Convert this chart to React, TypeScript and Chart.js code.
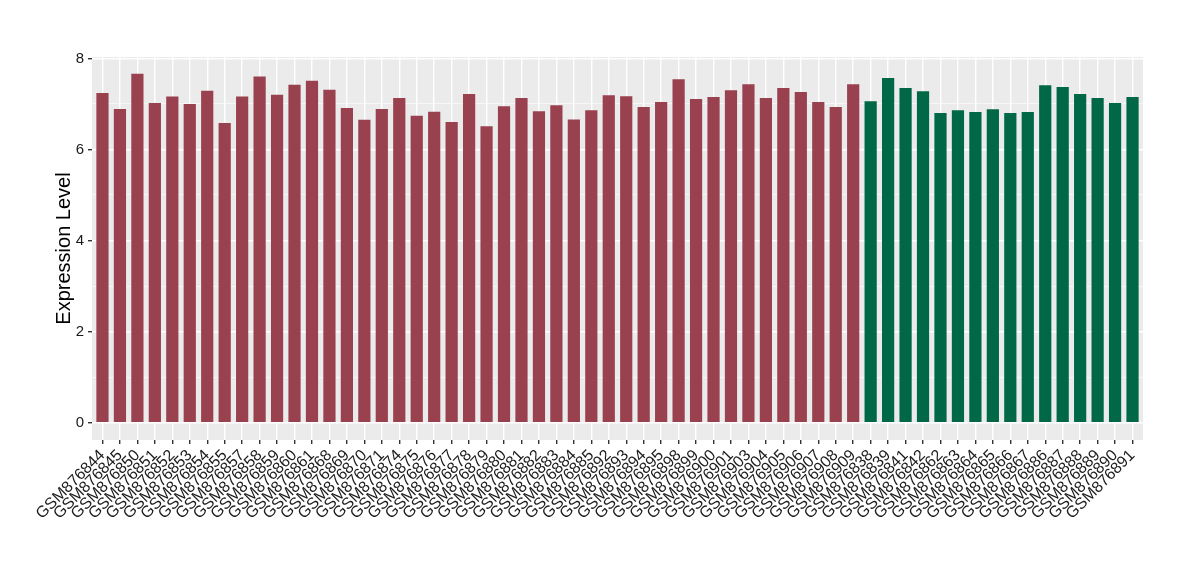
import React, { useEffect, useRef } from "react";
import { Chart, registerables } from "chart.js";

Chart.register(...registerables);

const groupALabels = [
  "GSM876844", "GSM876845", "GSM876850", "GSM876851", "GSM876852", "GSM876853", "GSM876854", "GSM876855",
  "GSM876857", "GSM876858", "GSM876859", "GSM876860", "GSM876861", "GSM876868", "GSM876869", "GSM876870",
  "GSM876871", "GSM876874", "GSM876875", "GSM876876", "GSM876877", "GSM876878", "GSM876879", "GSM876880",
  "GSM876881", "GSM876882", "GSM876883", "GSM876884", "GSM876885", "GSM876892", "GSM876893", "GSM876894",
  "GSM876895", "GSM876898", "GSM876899", "GSM876900", "GSM876901", "GSM876903", "GSM876904", "GSM876905",
  "GSM876906", "GSM876907", "GSM876908", "GSM876909",
];
const groupAValues = [
  7.24, 6.89, 7.66, 7.02, 7.16, 7.0, 7.29, 6.58,
  7.16, 7.6, 7.2, 7.42, 7.51, 7.31, 6.91, 6.65,
  6.89, 7.13, 6.74, 6.83, 6.6, 7.22, 6.51, 6.95,
  7.13, 6.84, 6.97, 6.66, 6.86, 7.19, 7.17, 6.93,
  7.04, 7.54, 7.11, 7.15, 7.3, 7.43, 7.13, 7.35,
  7.26, 7.04, 6.93, 7.43,
];
const groupBLabels = [
  "GSM876838", "GSM876839", "GSM876841", "GSM876842", "GSM876862", "GSM876863", "GSM876864", "GSM876865",
  "GSM876866", "GSM876867", "GSM876886", "GSM876887", "GSM876888", "GSM876889", "GSM876890", "GSM876891",
];
const groupBValues = [
  7.06, 7.57, 7.35, 7.28, 6.8, 6.86, 6.82, 6.88,
  6.8, 6.82, 7.41, 7.37, 7.22, 7.13, 7.02, 7.15,
];
const yTickValues = [0, 1, 2, 3, 4, 5, 6, 7, 8];
const yMajorTicks = [0, 2, 4, 6, 8];

const colorA = "#9A4150";
const colorB = "#006846";

export default function App() {
  const ref = useRef<HTMLCanvasElement | null>(null);

  useEffect(() => {
    if (!ref.current) return;
    const allLabels = [...groupALabels, ...groupBLabels];
    const n = allLabels.length;
    const dataA = groupAValues.map((v, i) => ({ x: i, y: v }));
    const dataB = groupBValues.map((v, i) => ({ x: i + groupALabels.length, y: v }));

    const panelBg = {
      id: "panelBg",
      beforeDraw(chart: any) {
        const { ctx, chartArea } = chart;
        ctx.save();
        ctx.fillStyle = "#EBEBEB";
        ctx.fillRect(chartArea.left, chartArea.top, chartArea.right - chartArea.left, chartArea.bottom - chartArea.top);
        ctx.restore();
      },
    };

    const font = "'Liberation Sans', Arial, Helvetica, sans-serif";
    const chart = new Chart(ref.current, {
      type: "bar",
      data: {
        datasets: [
          { data: dataA, backgroundColor: colorA, grouped: false, categoryPercentage: 1, barPercentage: 0.7 } as any,
          { data: dataB, backgroundColor: colorB, grouped: false, categoryPercentage: 1, barPercentage: 0.7 } as any,
        ],
      },
      options: {
        animation: false,
        responsive: false,
        maintainAspectRatio: false,
        layout: { padding: { top: 57, right: 57, left: 52, bottom: 0 } },
        plugins: { legend: { display: false }, tooltip: { enabled: false } },
        scales: {
          x: {
            type: "linear",
            offset: false,
            min: -0.6,
            max: n - 1 + 0.6,
            afterBuildTicks: (scale: any) => {
              scale.ticks = allLabels.map((_, i) => ({ value: i }));
            },
            afterFit: (scale: any) => {
              scale.height = 140;
            },
            border: { display: false },
            grid: {
              offset: false,
              color: "#FFFFFF",
              lineWidth: 1.4,
              tickColor: "#333333",
              tickLength: 4,
              drawTicks: true,
            },
            ticks: {
              autoSkip: false,
              maxRotation: 45,
              minRotation: 45,
              padding: 2,
              color: "#1A1A1A",
              font: { family: font, size: 16 },
              callback: (v: any) => allLabels[Math.round(Number(v))] ?? "",
            },
          },
          y: {
            min: -0.38,
            max: 8.03,
            afterBuildTicks: (scale: any) => {
              scale.ticks = yTickValues.map((v) => ({ value: v }));
            },
            afterFit: (scale: any) => {
              scale.width = 40;
            },
            border: { display: false },
            grid: {
              color: "#FFFFFF",
              lineWidth: (ctx: any) => (yMajorTicks.includes(ctx.tick?.value) ? 1.4 : 0.6),
              tickColor: (ctx: any) => (yMajorTicks.includes(ctx.tick?.value) ? "#333333" : "rgba(0,0,0,0)"),
              tickLength: 4,
            },
            title: {
              display: true,
              text: "Expression Level",
              color: "#000000",
              font: { family: font, size: 20 },
              padding: { top: 0, bottom: 0 },
            },
            ticks: {
              padding: 4,
              color: "#1A1A1A",
              font: { family: font, size: 15 },
              callback: (v: any) => (yMajorTicks.includes(Number(v)) ? String(v) : ""),
            },
          },
        },
      },
      plugins: [panelBg],
    } as any);
    return () => chart.destroy();
  }, []);

  return (
    <div style={{ position: "fixed", left: 0, top: 0, width: 1200, height: 580, background: "#fff" }}>
      <canvas ref={ref} width={1200} height={580} style={{ width: 1200, height: 580 }} />
    </div>
  );
}
